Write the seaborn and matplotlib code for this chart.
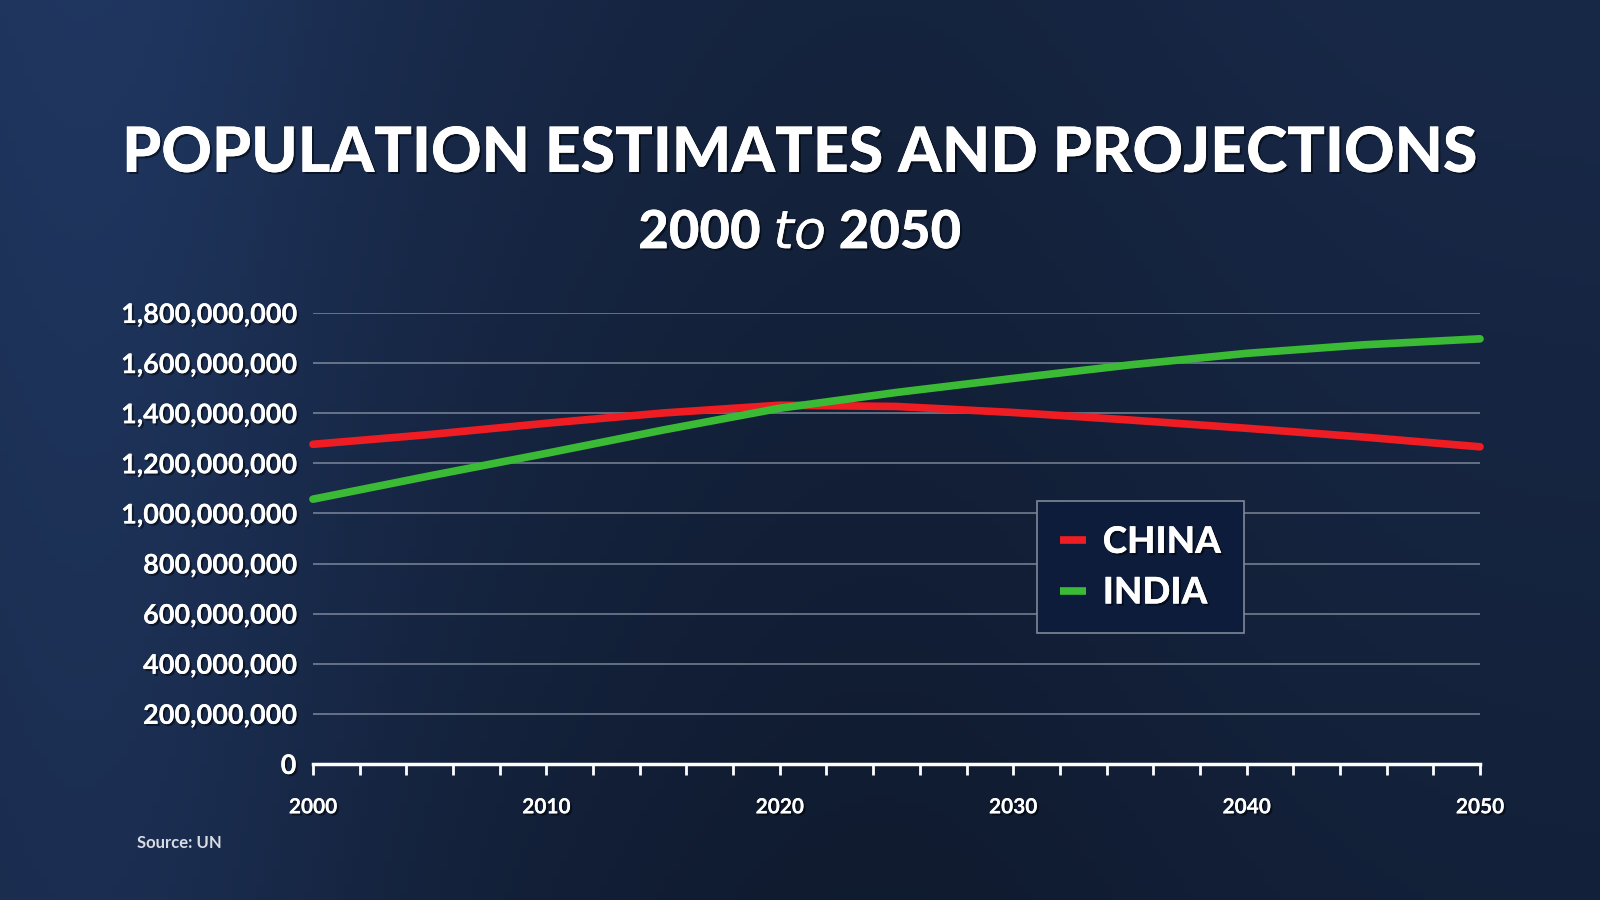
import matplotlib
matplotlib.use("Agg")
import matplotlib.pyplot as plt
import matplotlib.patheffects as pe
from matplotlib.ticker import FuncFormatter, MultipleLocator
import numpy as np
import pandas as pd
import seaborn as sns

# values (billions)
years = [2000, 2005, 2010, 2015, 2020, 2025, 2030, 2035, 2040, 2045, 2050]
china = [1.276, 1.315, 1.360, 1.401, 1.432, 1.427, 1.403, 1.373, 1.340, 1.305, 1.266]
india = [1.057, 1.150, 1.240, 1.333, 1.420, 1.483, 1.539, 1.593, 1.639, 1.673, 1.697]
countries = ["CHINA", "INDIA"]
colors = ["#ee1d23", "#3bba35"]
y_ticks = [0, 200e6, 400e6, 600e6, 800e6, 1000e6, 1200e6, 1400e6, 1600e6, 1800e6]
x_labels = [2000, 2010, 2020, 2030, 2040, 2050]

df = pd.DataFrame({
    "year": years * 2,
    "pop": [v * 1e9 for v in china] + [v * 1e9 for v in india],
    "country": ["CHINA"] * len(years) + ["INDIA"] * len(years),
})

sns.set_theme(style="white")
plt.rcParams['font.family'] = ['Lato', 'DejaVu Sans']

fig = plt.figure(figsize=(16, 9), dpi=100)

# background (stand-in for the photo)
bg = fig.add_axes([0, 0, 1, 1])
gx = np.linspace(0, 1, 200)
gy = np.linspace(0, 1, 120)
GX, GY = np.meshgrid(gx, gy)
shade = 0.6 + 0.25 * np.exp(-((GX - 0.05) ** 2) / 0.03) + 0.15 * (1 - GY) - 0.1 * np.exp(-((GX - 0.55) ** 2) / 0.05)
base = np.array([0.10, 0.17, 0.30])
img = np.clip(base[None, None, :] * shade[:, :, None] * 1.25, 0, 1)
bg.imshow(img, aspect="auto", extent=[0, 1, 0, 1], origin="upper")
bg.set_axis_off()

ax = fig.add_axes([0.1956, 0.1511, 0.7294, 0.5011])
ax.patch.set_alpha(0)

sns.lineplot(data=df, x="year", y="pop", hue="country", palette=colors,
             hue_order=countries, linewidth=5.5, ax=ax, legend=False, clip_on=False,
             solid_capstyle="round", solid_joinstyle="round")

ax.set_xlim(2000, 2050)
ax.set_ylim(0, 1.8e9)
ax.set_yticks(y_ticks)
ax.yaxis.set_major_formatter(FuncFormatter(lambda v, p: f"{int(v):,}"))
ax.set_xticks(x_labels)
ax.xaxis.set_minor_locator(MultipleLocator(2))
ax.grid(axis="y", color="#9aa3b3", linewidth=1.2, alpha=0.7)
ax.set_axisbelow(True)
for s in ["top", "right", "left"]:
    ax.spines[s].set_visible(False)
ax.spines["bottom"].set_color("white")
ax.spines["bottom"].set_linewidth(2.5)
ax.set_xlabel("")
ax.set_ylabel("")

shadow = [pe.withSimplePatchShadow(offset=(1.5, -1.5), shadow_rgbFace="black", alpha=0.5), pe.Normal()]

ax.tick_params(axis="x", which="both", direction="out", length=8, width=2, color="white",
               bottom=True, labelsize=15, labelcolor="white", pad=16)
ax.tick_params(axis="y", which="both", length=0, labelsize=19.5, labelcolor="white", pad=12)
for lab in ax.get_xticklabels() + ax.get_yticklabels():
    lab.set_fontweight("bold")
    lab.set_path_effects(shadow)

fig.text(0.5, 0.829, "POPULATION ESTIMATES AND PROJECTIONS", ha="center", va="center",
         color="white", fontsize=45, fontweight="black", path_effects=shadow)
fig.text(0.5, 0.741, r"2000 $\mathit{to}$ 2050", ha="center", va="center",
         color="white", fontsize=38, fontweight="black", path_effects=shadow)
fig.text(0.0856, 0.063, "Source: UN", ha="left", va="center", color="#d8dce3",
         fontsize=12, fontweight="bold")

# legend box
handles = [plt.Line2D([], [], color=c, linewidth=5.5, solid_capstyle="butt") for c in colors]
leg = ax.legend(handles, countries, loc="upper left", bbox_to_anchor=(0.620, 0.583),
                frameon=True, fancybox=False, fontsize=26.5, handlelength=0.7,
                handletextpad=0.45, borderpad=0.65, labelspacing=0.45, borderaxespad=0)
leg.get_frame().set_facecolor("#0c1c3a")
leg.get_frame().set_edgecolor("#7f8898")
leg.get_frame().set_linewidth(1.2)
leg.get_frame().set_alpha(1)
for t in leg.get_texts():
    t.set_color("white")
    t.set_fontweight("black")
    t.set_path_effects(shadow)

fig.savefig("out.png", dpi=100)
